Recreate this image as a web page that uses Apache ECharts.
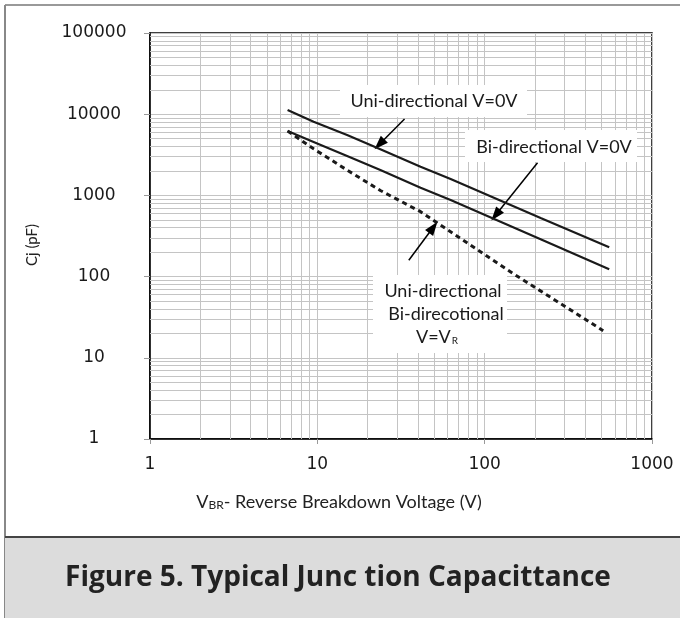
<!DOCTYPE html>
<html>
<head>
<meta charset="utf-8">
<script src="https://cdn.jsdelivr.net/npm/echarts@6/dist/echarts.min.js"></script>
<style>
html, body { margin: 0; padding: 0; background: #fff; }
#main { width: 680px; height: 618px; }
</style>
</head>
<body>
<div id="main"></div>
<script>
// 数据：近似值 (V, pF)
var uniVoltage = [6.64, 9.5, 15.06, 23.8, 41.4, 62.6, 216, 555];
var uniCap     = [11270, 8090, 5540, 3700, 2255, 1592, 527, 230];
var biVoltage  = [6.64, 9.5, 15.06, 23.8, 41.4, 62.6, 216, 555];
var biCap      = [6210, 4560, 3050, 2050, 1240, 877, 288, 123];
var vrVoltage  = [6.64, 9.5, 15.06, 23.8, 41.4, 150, 511];
var vrCap      = [6210, 3750, 2050, 1150, 630, 107, 21.6];

// 次网格线位置
var minorX = [2, 3, 4, 5, 6, 7, 8, 9, 20, 30, 40, 50, 60, 70, 80, 90, 200, 300, 400, 500, 600, 700, 800, 900];
var minorY = [];
[1, 10, 100, 1000, 10000].forEach(function (d) {
    for (var k = 2; k <= 9; k++) minorY.push(d * k);
});

// 箭头 (起点 -> 终点, 数据坐标)
var arrows = [
    [[33.2, 8730], [23.5, 4260]],
    [[207, 2528], [116.4, 574]],
    [[35.2, 159], [49.3, 405]]
];

function pairs(xs, ys) {
    return xs.map(function (x, i) { return [x, ys[i]]; });
}

var gridColor = '#c4c4c4';
var txtFont = 'Lato';

var myChart = echarts.init(document.getElementById('main'));
myChart.setOption({
    animation: false,
    backgroundColor: '#fff',
    grid: {
        left: 150, top: 33, right: 28, bottom: 179,
        show: true, borderColor: '#000', borderWidth: 1.5
    },
    xAxis: {
        type: 'log', logBase: 10, min: 1, max: 1000,
        axisLine: { lineStyle: { color: '#000', width: 1.5 } },
        axisTick: { show: true, length: 5, lineStyle: { color: '#999' } },
        axisLabel: {
            margin: 17, fontFamily: 'DejaVu Sans', fontSize: 17, color: '#1a1a1a',
            formatter: function (v) { return String(Math.round(v)); }
        },
        splitLine: { show: true, lineStyle: { color: gridColor, width: 1 } }
    },
    yAxis: {
        type: 'log', logBase: 10, min: 1, max: 100000,
        axisLine: { lineStyle: { color: '#000', width: 1.5 } },
        axisTick: { show: true, length: 6, lineStyle: { color: '#999' } },
        axisLabel: {
            margin: 56, align: 'center', fontFamily: 'DejaVu Sans', fontSize: 17, color: '#1a1a1a',
            formatter: function (v) { return String(Math.round(v)); }
        },
        splitLine: { show: true, lineStyle: { color: gridColor, width: 1 } }
    },
    series: [
        {
            // 次网格线
            type: 'line', data: [], silent: true, z: 1,
            markLine: {
                silent: true, symbol: 'none', label: { show: false },
                lineStyle: { color: gridColor, width: 1, type: 'solid' },
                data: minorX.map(function (v) { return { xAxis: v }; })
                    .concat(minorY.map(function (v) { return { yAxis: v }; }))
            }
        },
        {
            name: 'Uni-directional V=0V', type: 'line', symbol: 'none', z: 5,
            data: pairs(uniVoltage, uniCap),
            lineStyle: { color: '#1a1a1a', width: 2.2 }
        },
        {
            name: 'Bi-directional V=0V', type: 'line', symbol: 'none', z: 5,
            data: pairs(biVoltage, biCap),
            lineStyle: { color: '#1a1a1a', width: 2.2 }
        },
        {
            name: 'V=VR', type: 'line', symbol: 'none', z: 5,
            data: pairs(vrVoltage, vrCap),
            lineStyle: { color: '#1a1a1a', width: 3, type: [5, 4] }
        },
        {
            // 标注箭头
            type: 'line', data: [], silent: true, z: 6,
            markLine: {
                silent: true, label: { show: false },
                lineStyle: { color: '#000', width: 1.5, type: 'solid' },
                data: arrows.map(function (a) {
                    return [
                        { coord: a[0], symbol: 'none' },
                        { coord: a[1], symbol: 'triangle', symbolSize: [10, 14] }
                    ];
                })
            }
        }
    ],
    graphic: [
        // 外框
        { type: 'line', z: 10, shape: { x1: 5, y1: 5, x2: 680, y2: 5 }, style: { stroke: '#999', lineWidth: 2 } },
        { type: 'line', z: 10, shape: { x1: 5, y1: 5, x2: 5, y2: 618 }, style: { stroke: '#888', lineWidth: 2 } },
        { type: 'rect', z: 10, shape: { x: 5, y: 537, width: 675, height: 81 }, style: { fill: '#dcdcdc' } },
        { type: 'line', z: 11, shape: { x1: 5, y1: 537, x2: 680, y2: 537 }, style: { stroke: '#444', lineWidth: 2 } },
        {
            type: 'text', z: 12, x: 338, y: 578,
            style: {
                text: 'Figure 5. Typical Junc tion Capacittance', align: 'center', verticalAlign: 'middle',
                font: 'bold 28px "Open Sans"', fill: '#222'
            }
        },
        // 轴标题
        {
            type: 'text', z: 12, x: 339, y: 502,
            style: {
                text: 'V{s|BR}- Reverse Breakdown Voltage (V)', align: 'center', verticalAlign: 'middle',
                font: '18px ' + txtFont, fill: '#222',
                rich: { s: { fontSize: 12, fontFamily: txtFont, fill: '#222', verticalAlign: 'bottom', padding: [6, 0, 0, 0] } }
            }
        },
        {
            type: 'text', z: 12, x: 32, y: 245, rotation: Math.PI / 2,
            style: {
                text: 'Cj (pF)', align: 'center', verticalAlign: 'middle',
                font: '15px ' + txtFont, fill: '#222'
            }
        },
        // 标注文字框
        { type: 'rect', z: 12, shape: { x: 340, y: 85, width: 187, height: 32 }, style: { fill: '#fff' } },
        {
            type: 'text', z: 13, x: 434, y: 101,
            style: { text: 'Uni-directional V=0V', align: 'center', verticalAlign: 'middle', font: '18px ' + txtFont, fill: '#1a1a1a' }
        },
        { type: 'rect', z: 12, shape: { x: 465, y: 130, width: 172, height: 32 }, style: { fill: '#fff' } },
        {
            type: 'text', z: 13, x: 554, y: 147,
            style: { text: 'Bi-directional V=0V', align: 'center', verticalAlign: 'middle', font: '18px ' + txtFont, fill: '#1a1a1a' }
        },
        { type: 'rect', z: 12, shape: { x: 373, y: 275, width: 134, height: 78 }, style: { fill: '#fff' } },
        {
            type: 'text', z: 13, x: 443, y: 291,
            style: { text: 'Uni-directional', align: 'center', verticalAlign: 'middle', font: '18px ' + txtFont, fill: '#1a1a1a' }
        },
        {
            type: 'text', z: 13, x: 446, y: 314,
            style: { text: 'Bi-direcotional', align: 'center', verticalAlign: 'middle', font: '18px ' + txtFont, fill: '#1a1a1a' }
        },
        {
            type: 'text', z: 13, x: 437, y: 337,
            style: {
                text: 'V=V{s|R}', align: 'center', verticalAlign: 'middle', font: '18px ' + txtFont, fill: '#1a1a1a',
                rich: { s: { fontSize: 10, fontFamily: txtFont, fill: '#1a1a1a', verticalAlign: 'bottom', padding: [8, 0, 0, 1] } }
            }
        }
    ]
});
</script>
</body>
</html>
